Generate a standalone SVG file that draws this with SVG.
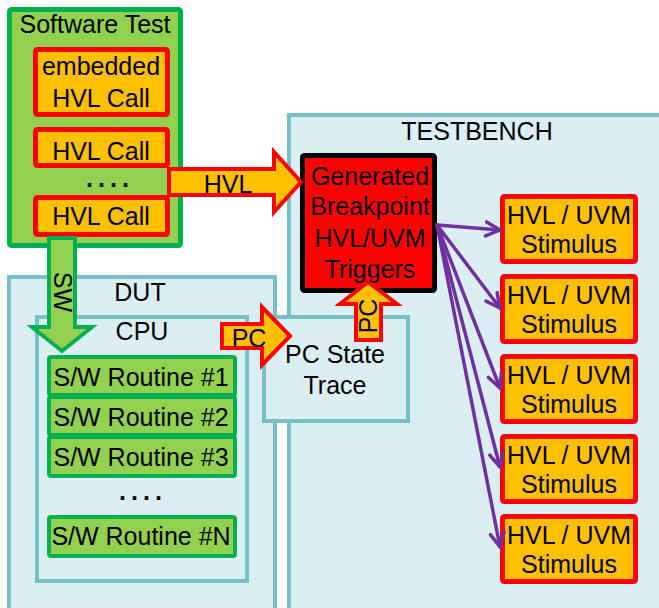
<svg xmlns="http://www.w3.org/2000/svg" width="659" height="608" viewBox="0 0 659 608">
<style>
text{font-family:"Liberation Sans",Arial,sans-serif;font-size:25px;fill:#000;text-anchor:middle}
.dots{font-weight:bold;letter-spacing:5px}
.cont{fill:#DAEEF3;stroke:#78C0C7;stroke-width:4}
.call{fill:#FFC000;stroke:#FF0000;stroke-width:5}
.grn{fill:#92D050;stroke:#00B050;stroke-width:4}
.big{fill:#92D050;stroke:#00B050;stroke-width:5}
.rarr{fill:#FFC000;stroke:#FF0000;stroke-width:4;stroke-linejoin:miter}
.garr{fill:#92D050;stroke:#00B050;stroke-width:4;stroke-linejoin:miter}
.pl{fill:none;stroke:#7030A0;stroke-width:3.5;stroke-linecap:round}
</style>
<defs>
<marker id="pa" viewBox="0 0 18 18" refX="16" refY="9" markerWidth="18" markerHeight="18" markerUnits="userSpaceOnUse" orient="auto">
<path d="M2,2 L16,9 L2,16" fill="none" stroke="#7030A0" stroke-width="3.5" stroke-linecap="round" stroke-linejoin="round"/>
</marker>
</defs>
<rect width="659" height="608" fill="#FFFFFF"/>

<g id="dut">
<rect class="cont" x="9" y="277" width="266" height="360"/>
<text x="140" y="301">DUT</text>
</g>
<g id="cpu">
<rect class="cont" x="37" y="317" width="210" height="264"/>
<text x="142" y="340">CPU</text>
</g>
<g id="testbench">
<rect class="cont" x="289" y="115" width="400" height="520"/>
<text x="477" y="140">TESTBENCH</text>
</g>
<g id="pcstate">
<rect class="cont" x="264" y="317" width="144" height="104"/>
<text x="335" y="363">PC State</text>
<text x="335" y="394">Trace</text>
</g>

<g id="software-test">
<rect class="big" x="9.5" y="9.5" width="171" height="236" rx="2"/>
<text x="95" y="33">Software Test</text>
</g>
<g id="embedded-call">
<rect class="call" x="35.5" y="49.5" width="132" height="65" rx="2"/>
<text x="101" y="75">embedded</text>
<text x="101" y="107">HVL Call</text>
</g>
<g id="hvl-call-1">
<rect class="call" x="35.5" y="129.5" width="132" height="36" rx="2"/>
<text x="101" y="160">HVL Call</text>
</g>
<g id="call-dots"><text class="dots" x="110" y="187">....</text></g>
<g id="hvl-call-2">
<rect class="call" x="35.5" y="197.5" width="132" height="37" rx="2"/>
<text x="101" y="225">HVL Call</text>
</g>

<g id="sw1">
<rect class="grn" x="49" y="357" width="186" height="38" rx="2"/>
<text x="141" y="386">S/W Routine #1</text>
</g>
<g id="sw2">
<rect class="grn" x="49" y="397" width="186" height="38" rx="2"/>
<text x="141" y="426">S/W Routine #2</text>
</g>
<g id="sw3">
<rect class="grn" x="49" y="437" width="186" height="39" rx="2"/>
<text x="141" y="466">S/W Routine #3</text>
</g>
<g id="sw-dots"><text class="dots" x="143" y="500">....</text></g>
<g id="swN">
<rect class="grn" x="49" y="517" width="186" height="39" rx="2"/>
<text x="141" y="545">S/W Routine #N</text>
</g>

<g id="generated">
<rect x="302.5" y="155.5" width="132" height="135" fill="#FF0000" stroke="#000" stroke-width="5" rx="2"/>
<text x="370" y="185">Generated</text>
<text x="370" y="215">Breakpoint</text>
<text x="370" y="247">HVL/UVM</text>
<text x="370" y="278">Triggers</text>
</g>

<g id="stim1"><rect class="call" x="502.5" y="196.5" width="133" height="65" rx="2"/><text x="569" y="224">HVL / UVM</text><text x="569" y="253">Stimulus</text></g>
<g id="stim2"><rect class="call" x="502.5" y="276.5" width="133" height="65" rx="2"/><text x="569" y="304">HVL / UVM</text><text x="569" y="333">Stimulus</text></g>
<g id="stim3"><rect class="call" x="502.5" y="356.5" width="133" height="65" rx="2"/><text x="569" y="384">HVL / UVM</text><text x="569" y="413">Stimulus</text></g>
<g id="stim4"><rect class="call" x="502.5" y="436.5" width="133" height="65" rx="2"/><text x="569" y="464">HVL / UVM</text><text x="569" y="493">Stimulus</text></g>
<g id="stim5"><rect class="call" x="502.5" y="516.5" width="133" height="65" rx="2"/><text x="569" y="544">HVL / UVM</text><text x="569" y="573">Stimulus</text></g>

<g id="connectors">
<polygon class="garr" points="49,238 75,238 75,327 92,327 62,351 32,327 49,327"/>
<text transform="translate(62,292) rotate(90)" y="8">SW</text>
<polygon class="rarr" points="169,169 274,169 274,152 301,182 274,212 274,195 169,195"/>
<text x="228" y="193">HVL</text>
<polygon class="rarr" points="222,324 262,324 262,307 290,336 262,365 262,348 222,348"/>
<text x="249" y="347">PC</text>
<polygon class="rarr" points="356,340 356,304 340,304 368,282 397,304 381,304 381,340"/>
<text transform="translate(369,316) rotate(-90)" y="8">PC</text>
<line class="pl" x1="437" y1="225" x2="500" y2="230" marker-end="url(#pa)"/>
<line class="pl" x1="437" y1="225" x2="500" y2="308" marker-end="url(#pa)"/>
<line class="pl" x1="437" y1="225" x2="500" y2="388" marker-end="url(#pa)"/>
<line class="pl" x1="437" y1="225" x2="500" y2="467" marker-end="url(#pa)"/>
<line class="pl" x1="437" y1="225" x2="500" y2="547" marker-end="url(#pa)"/>
</g>
</svg>
